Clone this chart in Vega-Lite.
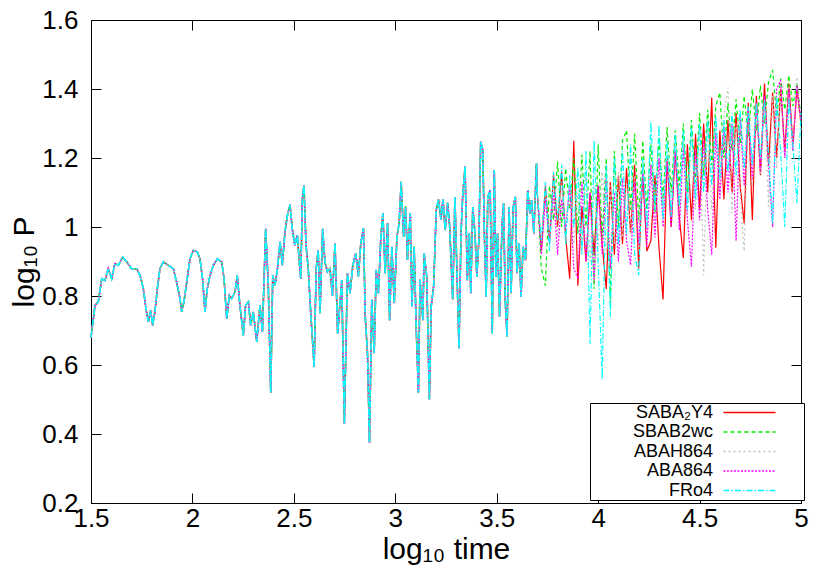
{
  "$schema": "https://vega.github.io/schema/vega-lite/v6.json",
  "autosize": {"type": "none"},
  "width": 710,
  "height": 483,
  "padding": {"left": 91, "top": 20, "right": 29, "bottom": 78},
  "background": "white",
  "datasets": {
    "common": [
      {"x":1.5,"y":0.68},{"x":1.52,"y":0.773},{"x":1.536,"y":0.783},{"x":1.553,"y":0.85},{"x":1.569,"y":0.845},{"x":1.585,"y":0.879},{"x":1.602,"y":0.85},{"x":1.618,"y":0.894},{"x":1.635,"y":0.889},{"x":1.656,"y":0.913},{"x":1.676,"y":0.899},{"x":1.7,"y":0.879},{"x":1.725,"y":0.879},{"x":1.742,"y":0.86},{"x":1.758,"y":0.821},{"x":1.771,"y":0.763},{"x":1.783,"y":0.725},{"x":1.794,"y":0.758},{"x":1.804,"y":0.715},{"x":1.815,"y":0.754},{"x":1.827,"y":0.821},{"x":1.84,"y":0.879},{"x":1.856,"y":0.899},{"x":1.881,"y":0.889},{"x":1.906,"y":0.879},{"x":1.922,"y":0.84},{"x":1.939,"y":0.792},{"x":1.947,"y":0.754},{"x":1.958,"y":0.783},{"x":1.972,"y":0.84},{"x":1.988,"y":0.908},{"x":2.004,"y":0.932},{"x":2.024,"y":0.928},{"x":2.037,"y":0.908},{"x":2.05,"y":0.85},{"x":2.062,"y":0.754},{"x":2.073,"y":0.821},{"x":2.087,"y":0.86},{"x":2.103,"y":0.889},{"x":2.123,"y":0.908},{"x":2.144,"y":0.899},{"x":2.156,"y":0.85},{"x":2.169,"y":0.734},{"x":2.182,"y":0.802},{"x":2.193,"y":0.792},{"x":2.21,"y":0.812},{"x":2.221,"y":0.86},{"x":2.234,"y":0.773},{"x":2.251,"y":0.686},{"x":2.262,"y":0.773},{"x":2.276,"y":0.783},{"x":2.287,"y":0.715},{"x":2.3,"y":0.754},{"x":2.317,"y":0.667},{"x":2.333,"y":0.773},{"x":2.345,"y":0.696},{"x":2.361,"y":0.995},{"x":2.374,"y":0.831},{"x":2.386,"y":0.52},{"x":2.396,"y":0.86},{"x":2.407,"y":0.831},{"x":2.419,"y":0.879},{"x":2.432,"y":0.957},{"x":2.443,"y":0.889},{"x":2.456,"y":0.986},{"x":2.468,"y":1.034},{"x":2.481,"y":1.065},{"x":2.492,"y":0.995},{"x":2.505,"y":0.947},{"x":2.517,"y":0.976},{"x":2.527,"y":0.899},{"x":2.534,"y":0.85},{"x":2.542,"y":1.082},{"x":2.55,"y":1.12},{"x":2.56,"y":0.947},{"x":2.571,"y":0.879},{"x":2.583,"y":0.754},{"x":2.6,"y":0.595},{"x":2.61,"y":0.879},{"x":2.62,"y":0.933},{"x":2.629,"y":0.75},{"x":2.642,"y":0.995},{"x":2.653,"y":0.899},{"x":2.665,"y":0.87},{"x":2.678,"y":0.88},{"x":2.69,"y":0.8},{"x":2.703,"y":0.953},{"x":2.716,"y":0.69},{"x":2.736,"y":0.846},{"x":2.749,"y":0.43},{"x":2.764,"y":0.866},{"x":2.777,"y":0.808},{"x":2.79,"y":0.886},{"x":2.805,"y":0.924},{"x":2.818,"y":0.857},{"x":2.83,"y":0.953},{"x":2.843,"y":0.996},{"x":2.852,"y":0.74},{"x":2.863,"y":0.634},{"x":2.873,"y":0.375},{"x":2.884,"y":0.789},{"x":2.896,"y":0.634},{"x":2.906,"y":0.876},{"x":2.917,"y":0.808},{"x":2.929,"y":0.972},{"x":2.939,"y":1.04},{"x":2.95,"y":0.866},{"x":2.962,"y":1.011},{"x":2.972,"y":0.73},{"x":2.983,"y":0.943},{"x":2.995,"y":0.779},{"x":3.008,"y":0.972},{"x":3.019,"y":1.011},{"x":3.029,"y":1.131},{"x":3.041,"y":0.972},{"x":3.051,"y":1.059},{"x":3.06,"y":0.905},{"x":3.074,"y":1.04},{"x":3.082,"y":0.77},{"x":3.093,"y":0.943},{"x":3.103,"y":0.711},{"x":3.114,"y":0.52},{"x":3.122,"y":0.847},{"x":3.136,"y":0.73},{"x":3.142,"y":0.924},{"x":3.155,"y":0.857},{"x":3.168,"y":0.5},{"x":3.177,"y":0.77},{"x":3.189,"y":0.828},{"x":3.202,"y":1.05},{"x":3.213,"y":1.08},{"x":3.225,"y":1.021},{"x":3.235,"y":1.08},{"x":3.246,"y":0.991},{"x":3.258,"y":1.07},{"x":3.268,"y":1.002},{"x":3.283,"y":0.79},{"x":3.294,"y":1.087},{"x":3.306,"y":0.827},{"x":3.314,"y":0.648},{"x":3.324,"y":0.981},{"x":3.332,"y":1.087},{"x":3.344,"y":1.175},{"x":3.355,"y":0.846},{"x":3.365,"y":0.981},{"x":3.372,"y":0.808},{"x":3.382,"y":1.058},{"x":3.393,"y":0.981},{"x":3.402,"y":0.856},{"x":3.412,"y":0.962},{"x":3.421,"y":1.247},{"x":3.431,"y":1.223},{"x":3.44,"y":0.962},{"x":3.448,"y":0.798},{"x":3.456,"y":1.087},{"x":3.468,"y":1.107},{"x":3.478,"y":0.692},{"x":3.488,"y":1.165},{"x":3.496,"y":0.856},{"x":3.504,"y":0.981},{"x":3.514,"y":0.74},{"x":3.526,"y":1.001},{"x":3.534,"y":1.068},{"x":3.542,"y":0.788},{"x":3.551,"y":0.682},{"x":3.561,"y":1.058},{"x":3.571,"y":0.808},{"x":3.581,"y":1.058},{"x":3.592,"y":1.087},{"x":3.6,"y":0.866},{"x":3.61,"y":0.952},{"x":3.62,"y":0.798},{"x":3.63,"y":0.943},{"x":3.642,"y":0.904},{"x":3.653,"y":1.107},{"x":3.663,"y":1.039},{"x":3.672,"y":1.078},{"x":3.683,"y":0.981},{"x":3.696,"y":1.184},{"x":3.7,"y":1.1}
    ],
    "div": [
      {"x":3.70,"SABA₂Y4":1.10,"SBAB2wc":1.10,"ABAH864":1.10,"ABA864":1.10,"FRo4":1.10},
      {"x":3.72,"SABA₂Y4":0.93,"SBAB2wc":0.88,"ABAH864":0.95,"ABA864":0.92,"FRo4":0.96},
      {"x":3.74,"SABA₂Y4":1.12,"SBAB2wc":0.83,"ABAH864":1.10,"ABA864":1.08,"FRo4":1.13},
      {"x":3.76,"SABA₂Y4":0.96,"SBAB2wc":1.12,"ABAH864":0.98,"ABA864":0.95,"FRo4":0.93},
      {"x":3.78,"SABA₂Y4":1.15,"SBAB2wc":1.02,"ABAH864":1.13,"ABA864":1.10,"FRo4":1.16},
      {"x":3.80,"SABA₂Y4":1.00,"SBAB2wc":1.19,"ABAH864":0.97,"ABA864":0.92,"FRo4":1.02},
      {"x":3.82,"SABA₂Y4":1.16,"SBAB2wc":1.00,"ABAH864":1.12,"ABA864":1.08,"FRo4":1.18},
      {"x":3.84,"SABA₂Y4":0.97,"SBAB2wc":1.17,"ABAH864":1.00,"ABA864":0.99,"FRo4":0.95},
      {"x":3.86,"SABA₂Y4":0.85,"SBAB2wc":1.05,"ABAH864":1.13,"ABA864":1.12,"FRo4":1.15},
      {"x":3.88,"SABA₂Y4":1.25,"SBAB2wc":1.20,"ABAH864":0.95,"ABA864":0.88,"FRo4":1.00},
      {"x":3.90,"SABA₂Y4":0.83,"SBAB2wc":0.98,"ABAH864":1.10,"ABA864":0.85,"FRo4":1.17},
      {"x":3.92,"SABA₂Y4":1.06,"SBAB2wc":1.21,"ABAH864":0.93,"ABA864":1.13,"FRo4":0.92},
      {"x":3.94,"SABA₂Y4":0.90,"SBAB2wc":1.00,"ABAH864":1.15,"ABA864":0.90,"FRo4":1.22},
      {"x":3.96,"SABA₂Y4":1.10,"SBAB2wc":1.22,"ABAH864":0.90,"ABA864":1.10,"FRo4":0.66},
      {"x":3.98,"SABA₂Y4":0.92,"SBAB2wc":0.82,"ABAH864":1.12,"ABA864":0.84,"FRo4":1.25},
      {"x":4.00,"SABA₂Y4":1.12,"SBAB2wc":1.24,"ABAH864":0.95,"ABA864":1.12,"FRo4":0.90},
      {"x":4.02,"SABA₂Y4":0.95,"SBAB2wc":0.97,"ABAH864":1.16,"ABA864":0.92,"FRo4":0.56},
      {"x":4.04,"SABA₂Y4":0.82,"SBAB2wc":1.20,"ABAH864":0.92,"ABA864":1.15,"FRo4":1.18},
      {"x":4.06,"SABA₂Y4":1.13,"SBAB2wc":0.78,"ABAH864":1.12,"ABA864":0.88,"FRo4":0.74},
      {"x":4.08,"SABA₂Y4":0.92,"SBAB2wc":1.22,"ABAH864":0.95,"ABA864":1.10,"FRo4":1.20},
      {"x":4.10,"SABA₂Y4":1.15,"SBAB2wc":1.00,"ABAH864":1.16,"ABA864":0.90,"FRo4":0.95},
      {"x":4.12,"SABA₂Y4":0.95,"SBAB2wc":1.25,"ABAH864":0.97,"ABA864":1.14,"FRo4":1.22},
      {"x":4.14,"SABA₂Y4":1.17,"SBAB2wc":1.28,"ABAH864":1.13,"ABA864":0.96,"FRo4":0.98},
      {"x":4.16,"SABA₂Y4":0.98,"SBAB2wc":1.05,"ABAH864":0.98,"ABA864":0.89,"FRo4":1.24},
      {"x":4.18,"SABA₂Y4":1.18,"SBAB2wc":1.27,"ABAH864":1.15,"ABA864":1.13,"FRo4":0.92},
      {"x":4.20,"SABA₂Y4":0.88,"SBAB2wc":1.02,"ABAH864":1.00,"ABA864":0.95,"FRo4":0.86},
      {"x":4.22,"SABA₂Y4":1.16,"SBAB2wc":1.25,"ABAH864":1.18,"ABA864":1.16,"FRo4":1.20},
      {"x":4.24,"SABA₂Y4":0.93,"SBAB2wc":1.05,"ABAH864":0.99,"ABA864":0.94,"FRo4":1.00},
      {"x":4.26,"SABA₂Y4":0.96,"SBAB2wc":1.24,"ABAH864":1.17,"ABA864":1.18,"FRo4":1.305},
      {"x":4.28,"SABA₂Y4":1.15,"SBAB2wc":1.04,"ABAH864":1.02,"ABA864":0.97,"FRo4":1.05},
      {"x":4.30,"SABA₂Y4":0.94,"SBAB2wc":1.26,"ABAH864":1.20,"ABA864":1.20,"FRo4":1.295},
      {"x":4.32,"SABA₂Y4":0.79,"SBAB2wc":1.08,"ABAH864":1.05,"ABA864":1.00,"FRo4":1.02},
      {"x":4.34,"SABA₂Y4":1.20,"SBAB2wc":1.29,"ABAH864":1.22,"ABA864":1.19,"FRo4":1.25},
      {"x":4.36,"SABA₂Y4":1.00,"SBAB2wc":1.10,"ABAH864":1.04,"ABA864":1.00,"FRo4":1.03},
      {"x":4.38,"SABA₂Y4":1.22,"SBAB2wc":1.28,"ABAH864":1.24,"ABA864":1.22,"FRo4":1.27},
      {"x":4.40,"SABA₂Y4":1.03,"SBAB2wc":1.12,"ABAH864":1.06,"ABA864":0.99,"FRo4":1.06},
      {"x":4.42,"SABA₂Y4":0.91,"SBAB2wc":1.30,"ABAH864":1.25,"ABA864":1.23,"FRo4":1.28},
      {"x":4.44,"SABA₂Y4":1.24,"SBAB2wc":1.10,"ABAH864":1.03,"ABA864":1.02,"FRo4":1.05},
      {"x":4.46,"SABA₂Y4":1.02,"SBAB2wc":1.31,"ABAH864":1.27,"ABA864":0.885,"FRo4":1.29},
      {"x":4.48,"SABA₂Y4":1.27,"SBAB2wc":1.13,"ABAH864":1.05,"ABA864":1.22,"FRo4":1.08},
      {"x":4.50,"SABA₂Y4":1.05,"SBAB2wc":1.33,"ABAH864":1.29,"ABA864":1.02,"FRo4":1.30},
      {"x":4.52,"SABA₂Y4":1.30,"SBAB2wc":1.15,"ABAH864":0.86,"ABA864":1.25,"FRo4":1.10},
      {"x":4.54,"SABA₂Y4":1.10,"SBAB2wc":1.34,"ABAH864":1.30,"ABA864":1.05,"FRo4":1.31},
      {"x":4.56,"SABA₂Y4":1.375,"SBAB2wc":1.18,"ABAH864":1.05,"ABA864":0.92,"FRo4":1.12},
      {"x":4.58,"SABA₂Y4":0.94,"SBAB2wc":1.35,"ABAH864":1.30,"ABA864":1.27,"FRo4":1.32},
      {"x":4.60,"SABA₂Y4":1.28,"SBAB2wc":1.39,"ABAH864":1.10,"ABA864":1.08,"FRo4":1.14},
      {"x":4.62,"SABA₂Y4":1.08,"SBAB2wc":1.20,"ABAH864":1.32,"ABA864":1.29,"FRo4":1.31},
      {"x":4.64,"SABA₂Y4":1.31,"SBAB2wc":1.36,"ABAH864":1.405,"ABA864":1.10,"FRo4":1.16},
      {"x":4.66,"SABA₂Y4":1.10,"SBAB2wc":1.22,"ABAH864":1.04,"ABA864":1.30,"FRo4":1.33},
      {"x":4.68,"SABA₂Y4":1.33,"SBAB2wc":1.37,"ABAH864":1.30,"ABA864":0.96,"FRo4":1.15},
      {"x":4.70,"SABA₂Y4":1.12,"SBAB2wc":1.24,"ABAH864":1.10,"ABA864":1.32,"FRo4":1.34},
      {"x":4.72,"SABA₂Y4":1.01,"SBAB2wc":1.38,"ABAH864":0.93,"ABA864":1.12,"FRo4":1.17},
      {"x":4.74,"SABA₂Y4":1.36,"SBAB2wc":1.26,"ABAH864":1.33,"ABA864":1.34,"FRo4":1.35},
      {"x":4.76,"SABA₂Y4":1.02,"SBAB2wc":1.40,"ABAH864":1.12,"ABA864":1.14,"FRo4":1.18},
      {"x":4.78,"SABA₂Y4":1.38,"SBAB2wc":1.28,"ABAH864":1.35,"ABA864":1.36,"FRo4":1.36},
      {"x":4.80,"SABA₂Y4":1.15,"SBAB2wc":1.41,"ABAH864":1.15,"ABA864":1.16,"FRo4":1.20},
      {"x":4.82,"SABA₂Y4":1.416,"SBAB2wc":1.30,"ABAH864":1.37,"ABA864":1.38,"FRo4":1.37},
      {"x":4.84,"SABA₂Y4":1.18,"SBAB2wc":1.42,"ABAH864":1.06,"ABA864":1.18,"FRo4":1.21},
      {"x":4.86,"SABA₂Y4":1.39,"SBAB2wc":1.455,"ABAH864":1.38,"ABA864":1.00,"FRo4":1.01},
      {"x":4.88,"SABA₂Y4":1.20,"SBAB2wc":1.32,"ABAH864":1.17,"ABA864":1.40,"FRo4":1.38},
      {"x":4.90,"SABA₂Y4":1.40,"SBAB2wc":1.43,"ABAH864":1.39,"ABA864":1.425,"FRo4":1.22},
      {"x":4.92,"SABA₂Y4":1.22,"SBAB2wc":1.34,"ABAH864":1.20,"ABA864":1.20,"FRo4":1.00},
      {"x":4.94,"SABA₂Y4":1.416,"SBAB2wc":1.44,"ABAH864":1.41,"ABA864":1.40,"FRo4":1.37},
      {"x":4.96,"SABA₂Y4":1.24,"SBAB2wc":1.35,"ABAH864":1.22,"ABA864":1.22,"FRo4":1.24},
      {"x":4.98,"SABA₂Y4":1.40,"SBAB2wc":1.42,"ABAH864":1.435,"ABA864":1.41,"FRo4":1.07},
      {"x":5.00,"SABA₂Y4":1.30,"SBAB2wc":1.32,"ABAH864":1.28,"ABA864":1.31,"FRo4":1.33}
    ]
  },
  "config": {
    "view": {"stroke": "black", "strokeWidth": 1},
    "font": "Liberation Sans",
    "axis": {
      "grid": false,
      "domain": false,
      "tickColor": "black",
      "tickWidth": 1,
      "tickSize": -10,
      "labelColor": "black",
      "labelFont": "Liberation Sans",
      "labelFontSize": 26,
      "labelFlush": false,
      "labelOverlap": false,
      "titleFont": "Liberation Sans",
      "titleFontSize": 30,
      "titleFontWeight": "normal",
      "titleColor": "black"
    }
  },
  "resolve": {"axis": {"x": "independent", "y": "independent"}},
  "layer": [
    {
      "data": {"name": "common"},
      "mark": {"type": "line", "color": "#ff0000", "strokeWidth": 1.5},
      "encoding": {
        "x": {"field": "x", "type": "quantitative", "scale": {"domain": [1.5, 5], "nice": false, "zero": false},
              "axis": {"orient": "bottom", "values": [1.5, 2, 2.5, 3, 3.5, 4, 4.5, 5], "format": "~g", "labelPadding": 12, "title": "log₁₀ time", "titlePadding": 3}},
        "y": {"field": "y", "type": "quantitative", "scale": {"domain": [0.2, 1.6], "nice": false, "zero": false},
              "axis": {"orient": "left", "values": [0.2, 0.4, 0.6, 0.8, 1, 1.2, 1.4, 1.6], "format": "~g", "labelPadding": 23, "title": "log₁₀ P", "titlePadding": 2}}
      }
    },
    {
      "data": {"name": "common"},
      "mark": {"type": "line", "color": "#00ee00", "strokeWidth": 1.5, "strokeDash": [4, 3]},
      "encoding": {
        "x": {"field": "x", "type": "quantitative", "axis": {"orient": "top", "values": [1.5, 2, 2.5, 3, 3.5, 4, 4.5, 5], "labels": false, "title": null}},
        "y": {"field": "y", "type": "quantitative", "axis": {"orient": "right", "values": [0.2, 0.4, 0.6, 0.8, 1, 1.2, 1.4, 1.6], "labels": false, "title": null}}
      }
    },
    {
      "data": {"name": "common"},
      "mark": {"type": "line", "color": "#c0c0c0", "strokeWidth": 1.5, "strokeDash": [2, 3]},
      "encoding": {
        "x": {"field": "x", "type": "quantitative", "axis": null},
        "y": {"field": "y", "type": "quantitative", "axis": null}
      }
    },
    {
      "data": {"name": "common"},
      "mark": {"type": "line", "color": "#ff00ff", "strokeWidth": 1.5, "strokeDash": [1.5, 1.5]},
      "encoding": {
        "x": {"field": "x", "type": "quantitative", "axis": null},
        "y": {"field": "y", "type": "quantitative", "axis": null}
      }
    },
    {
      "data": {"name": "common"},
      "mark": {"type": "line", "color": "#00ffff", "strokeWidth": 1.6, "strokeDash": [7, 1.5, 1.5, 1.5]},
      "encoding": {
        "x": {"field": "x", "type": "quantitative", "axis": null},
        "y": {"field": "y", "type": "quantitative", "axis": null}
      }
    },
    {
      "data": {"name": "div"},
      "transform": [{"fold": ["SABA₂Y4", "SBAB2wc", "ABAH864", "ABA864", "FRo4"], "as": ["series", "v"]}],
      "mark": {"type": "line", "strokeWidth": 1.2},
      "encoding": {
        "x": {"field": "x", "type": "quantitative", "axis": null},
        "y": {"field": "v", "type": "quantitative", "axis": null},
        "color": {"field": "series", "type": "nominal",
          "scale": {"domain": ["SABA₂Y4", "SBAB2wc", "ABAH864", "ABA864", "FRo4"], "range": ["#ff0000", "#00ee00", "#c0c0c0", "#ff00ff", "#00ffff"]},
          "legend": {"orient": "none", "legendX": 499, "legendY": 383, "title": null, "padding": 0, "strokeColor": "black", "fillColor": "white",
            "labelFont": "Liberation Sans", "labelFontSize": 18, "labelColor": "black", "labelAlign": "right", "labelOffset": -46,
            "symbolType": "M-3.1,0H3.1M6.01,0", "symbolSize": 282, "symbolStrokeWidth": 1.6, "symbolOffset": 150, "rowPadding": 0.5}},
        "strokeDash": {"field": "series", "type": "nominal",
          "scale": {"domain": ["SABA₂Y4", "SBAB2wc", "ABAH864", "ABA864", "FRo4"], "range": [[1, 0], [4, 3], [2, 3], [2, 1.5], [6, 2, 1.5, 2]]},
          "legend": {"orient": "none", "legendX": 499, "legendY": 383, "title": null, "padding": 0, "strokeColor": "black", "fillColor": "white",
            "labelFont": "Liberation Sans", "labelFontSize": 18, "labelColor": "black", "labelAlign": "right", "labelOffset": -46,
            "symbolType": "M-3.1,0H3.1M6.01,0", "symbolSize": 282, "symbolStrokeWidth": 1.6, "symbolOffset": 150, "rowPadding": 0.5}}
      }
    }
  ]
}
